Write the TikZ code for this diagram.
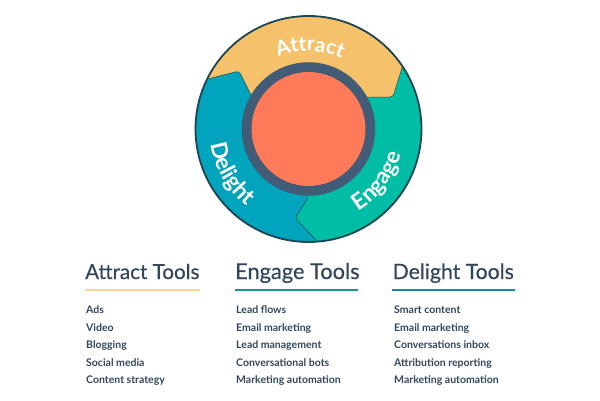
\documentclass[tikz,border=0pt]{standalone}
\usepackage{fontspec}
\setmainfont{Lato}
\newfontfamily\headfont[FakeBold=0.5]{Lato}
\usetikzlibrary{decorations.text}

\definecolor{attractcol}{HTML}{F5C26B}
\definecolor{engagecol}{HTML}{00BDA5}
\definecolor{delightcol}{HTML}{00A4BD}
\definecolor{hubcol}{HTML}{FF7A59}
\definecolor{ringcol}{HTML}{425B76}
\definecolor{rimcol}{HTML}{1D4453}
\definecolor{inkcol}{HTML}{33475B}
\newcommand{\wheelfont}{\fontsize{20.5}{20.5}\selectfont\bfseries\color{white}}
\newcommand{\wheelbigfont}{\fontsize{22.5}{22.5}\selectfont\bfseries\color{white}}

\begin{document}
\begin{tikzpicture}[
            x=1pt, y=1pt,
            sector/.style={draw=rimcol, line width=0.5pt, rounded corners=3pt},
            wheel text/.style={decorate, decoration={text along path, text align=center,
            text={#1}}},
            heading/.style={anchor=base west, text=inkcol, inner sep=0pt, font=\headfont\fontsize{#1}{#1}\selectfont},
            tool/.style={anchor=base west, text=inkcol, inner sep=0pt, font=\fontsize{10.5}{12}\selectfont\bfseries},
            tool rule/.style={line width=2pt}
            ]

            \useasboundingbox (0,0) rectangle (600,400);

            % wheel
            \begin{scope}
                \clip (308.5,271) circle (113);
                \fill[delightcol] (308.5,271) circle (113);
                \draw[sector, fill=engagecol] (308.5,271) -- (308,202) -- (295,182) -- (327,148.5)
                    -- (430,148.5) -- (430,345) -- (400,345) -- cycle;
                \draw[sector, fill=attractcol] (190,316.4) -- (239,329) -- (252,303) -- (308.5,271)
                    -- (365,303) -- (393,303) -- (405,342) -- (405,400) -- (190,400) -- cycle;
            \end{scope}
            \draw[rimcol, line width=1.8pt] (308.5,271) circle (113);
            \draw[rimcol, fill=hubcol, line width=0.5pt] (308.5,271) circle (57.5);
            \draw[ringcol, line width=9.5pt] (308.5,271) circle (62);

            % labels on the wheel
            \path[wheel text={|\wheelfont|Attract}] (308.5,271) ++(124:78) arc[start angle=124, end angle=54, radius=78];
            \path[wheel text={|\wheelbigfont|Delight}] (308.5,271) ++(165:99) arc[start angle=165, end angle=255, radius=99];
            \path[wheel text={|\wheelbigfont|Engage}] (308.5,271) ++(-82:96) arc[start angle=-82, end angle=8, radius=96];

            % columns
            \node[heading=20.6] (attracthead) at (85,121) {Attract Tools};
            \node[heading=21.8] (engagehead) at (235,121) {Engage Tools};
            \node[heading=21.2] (delighthead) at (392.5,121) {Delight Tools};

            \draw[tool rule, draw=attractcol!70!white] (85,110.5) -- (200,110.5);
            \draw[tool rule, draw=engagecol!70!inkcol] (235,110.5) -- (358,110.5);
            \draw[tool rule, draw=delightcol!70!inkcol] (392,110.5) -- (515,110.5);

            \node[tool] (attractone) at (86,86.5) {Ads};
            \node[tool] (attracttwo) at (86,69) {Video};
            \node[tool] (attractthree) at (86,51.5) {Blogging};
            \node[tool] (attractfour) at (86,34) {Social media};
            \node[tool] (attractfive) at (86,16.5) {Content strategy};

            \node[tool] (engageone) at (236,86.5) {Lead flows};
            \node[tool] (engagetwo) at (236,69) {Email marketing};
            \node[tool] (engagethree) at (236,51.5) {Lead management};
            \node[tool] (engagefour) at (236,34) {Conversational bots};
            \node[tool] (engagefive) at (236,16.5) {Marketing automation};

            \node[tool] (delightone) at (394,86.5) {Smart content};
            \node[tool] (delighttwo) at (394,69) {Email marketing};
            \node[tool] (delightthree) at (394,51.5) {Conversations inbox};
            \node[tool] (delightfour) at (394,34) {Attribution reporting};
            \node[tool] (delightfive) at (394,16.5) {Marketing automation};

        \end{tikzpicture}
\end{document}
